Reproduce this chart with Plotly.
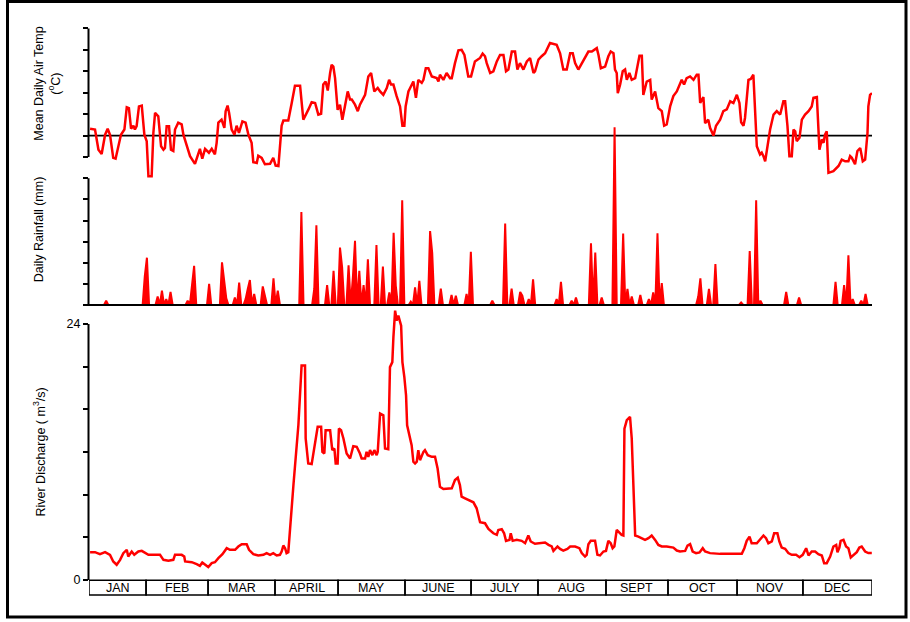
import plotly.graph_objects as go

W, H = 910, 622

# ---- data -------------------------------------------------------------
# Mean daily air temperature (deg C) against day of year
temp_day = [0.5, 2.8, 4.4, 5.9, 7.5, 8.7, 9.8, 11.3, 12.4, 13.7, 14.9, 16.5, 17.6, 18.6, 19.6, 20.7,
            21.4, 22.2, 23.3, 24.6, 25.8, 26.9, 27.7, 29.2, 30.0, 30.8, 32.3, 33.6, 34.7, 35.4, 36.2,
            37.3, 38.2, 39.3, 40.1, 41.6, 43.2, 44.0, 45.5, 47.1, 49.4, 51.0, 51.7, 52.8, 54.1, 55.9,
            57.2, 58.7, 59.5, 60.3, 61.8, 63.1, 63.7, 64.6, 65.3, 66.5, 67.8, 68.8, 69.9, 71.5, 73.0,
            74.3, 75.8, 76.6, 78.2, 78.9, 80.5, 82.0, 84.4, 85.9, 87.0, 88.3, 89.8, 90.6, 92.9, 94.5,
            96.0, 98.4, 99.9, 102.3, 103.8, 105.4, 106.9, 108.2, 109.2, 110.3, 111.3, 112.4, 113.1,
            113.9, 114.7, 115.9, 117.0, 118.1, 119.3, 120.6, 121.7, 122.5, 124.0, 125.3, 126.3, 128.7,
            130.2, 131.5, 133.0, 134.6, 135.7, 137.2, 138.8, 139.9, 140.8, 141.9, 143.4, 145.0, 146.1,
            147.0, 147.6, 148.9, 149.7, 151.2, 152.4, 153.5, 155.1, 155.9, 157.0, 158.2, 159.8, 162.1,
            162.9, 163.6, 165.2, 166.7, 168.3, 169.1, 170.6, 172.2, 173.7, 175.0, 176.8, 178.1, 179.9,
            182.3, 183.5, 184.6, 185.4, 187.0, 188.5, 190.1, 191.6, 193.2, 194.4, 195.5, 197.1, 198.6,
            199.7, 200.9, 202.5, 204.1, 205.6, 207.2, 207.9, 209.5, 211.0, 212.6, 214.9, 218.0, 219.6,
            221.1, 222.7, 224.3, 225.5, 226.6, 228.1, 229.7, 231.2, 232.8, 234.4, 235.9, 236.7, 237.5,
            238.6, 240.6, 242.1, 243.2, 244.5, 245.2, 246.0, 246.5, 247.6, 248.8, 249.9, 250.7, 251.9,
            253.0, 254.6, 256.6, 257.7, 258.4, 260.0, 261.6, 262.3, 263.9, 264.7, 265.4, 267.0, 268.1,
            269.3, 270.9, 272.4, 274.0, 276.3, 277.4, 278.6, 280.2, 281.8, 283.3, 284.1, 284.9, 286.4,
            287.2, 288.7, 289.5, 291.1, 292.3, 294.2, 295.7, 297.3, 298.9, 300.4, 302.0, 303.2, 304.0,
            305.1, 305.8, 307.4, 308.5, 309.7, 310.5, 311.3, 312.8, 313.6, 314.4, 315.2, 317.5, 319.1,
            320.6, 322.2, 323.7, 324.5, 325.6, 326.5, 327.6, 328.4, 329.2, 329.9, 331.2, 332.3, 333.8,
            335.4, 336.9, 337.7, 339.3, 340.0, 340.5, 341.6, 342.4, 343.1, 343.9, 344.7, 347.0, 349.4,
            350.9, 352.5, 354.0, 354.8, 355.6, 357.1, 358.2, 359.5, 360.7, 361.8, 362.9, 363.3, 364.1,
            365.0]
temp_c = [1.6, 1.4, -3.3, -4.3, 0.2, 1.6, 0.2, -5.2, -5.4, -2.5, 0.2, 1.4, 6.6, 6.4, 1.6, 2.3,
          1.4, 2.2, 6.8, 7.0, 0.2, -1.3, -9.5, -9.5, 0.6, 5.3, 4.5, -2.5, -3.3, -2.9, 2.2,
          2.2, -3.3, -3.6, 1.4, 3.0, 2.6, 0.2, -2.5, -4.8, -6.6, -4.4, -3.1, -5.4, -3.1, -4.0,
          -3.1, -4.4, -1.7, 3.0, 3.7, 1.8, 5.7, 7.0, 5.3, 1.4, 0.2, 2.3, 0.6, 3.3, 3.0,
          0.2, -1.7, -6.2, -6.4, -4.7, -5.2, -6.7, -6.6, -5.2, -7.0, -7.1, 2.3, 3.5, 3.5, 7.6,
          11.6, 11.6, 3.7, 6.1, 7.8, 7.6, 4.9, 5.1, 11.9, 12.6, 10.5, 14.6, 16.5,
          16.1, 13.4, 6.0, 7.2, 3.7, 6.8, 10.3, 8.4, 8.4, 7.2, 5.7, 7.2, 9.5,
          13.8, 14.6, 10.3, 11.1, 10.3, 9.5, 11.1, 13.0, 11.9, 11.9, 9.2, 6.8, 2.3,
          2.3, 6.8, 10.3, 11.1, 12.6, 8.8, 13.0, 12.3, 13.0, 15.7, 15.7, 13.8, 13.4,
          12.6, 14.2, 13.0, 14.6, 13.4, 13.4, 16.9, 19.9, 20.0, 18.8, 13.8, 13.8, 17.3,
          18.1, 19.1, 18.5, 16.9, 14.6, 15.0, 17.3, 18.8, 18.8, 15.0, 15.4, 19.6, 19.6,
          15.4, 16.9, 15.4, 17.3, 18.1, 14.6, 15.0, 17.7, 18.5, 19.2, 21.6, 21.2, 19.2,
          15.4, 15.4, 19.2, 19.2, 16.9, 15.4, 16.9, 18.1, 19.6, 19.6, 20.0, 20.4, 18.8,
          15.7, 16.1, 18.5, 19.6, 19.2, 15.4, 14.6, 9.9, 11.9, 15.0, 15.4, 13.0, 14.6,
          13.0, 13.4, 18.6, 18.6, 9.5, 12.6, 13.0, 8.4, 10.3, 8.4, 6.4, 5.7, 2.3,
          2.6, 6.8, 9.2, 10.3, 13.0, 11.9, 13.4, 13.8, 13.0, 14.2, 14.2, 7.6, 9.0,
          2.9, 3.7, 1.8, 0.0, 2.3, 3.7, 5.7, 6.1, 8.0, 7.6, 9.5, 7.6, 3.1,
          2.3, 4.1, 13.0, 13.2, 14.2, 6.1, -2.5, -4.4, -4.0, -4.8, -6.0, 1.4, 4.9,
          5.7, 4.9, 8.0, 8.0, 2.2, -4.8, -4.8, 1.4, 1.0, -1.3, -0.5, 3.7, 4.9,
          5.7, 6.8, 8.8, 9.0, 0.6, -3.3, -0.9, -1.7, 0.2, 1.0, -8.7, -8.3, -7.1,
          -5.6, -6.0, -6.0, -4.8, -5.2, -6.7, -3.6, -2.9, -6.0, -5.6, 0.6, 6.8, 9.5,
          9.9]

# Daily rainfall (mm): days with rain; every other day is dry
rain_wet_day = [8, 26, 27, 32, 34, 36, 38, 46, 48, 49, 56, 62, 63, 64, 68, 70, 73, 74, 75, 77,
                81, 82, 86, 88, 99, 105, 106, 111, 114, 117, 118, 121, 123, 124, 126, 128, 130,
                134, 137, 140, 142, 143, 146, 150, 152, 154, 159, 160, 164, 169, 171, 176, 178,
                188, 194, 197, 201, 202, 205, 207, 218, 220, 225, 227, 234, 236, 239, 245, 249,
                251, 253, 257, 261, 263, 265, 267, 284, 285, 289, 292, 304, 308, 311, 313, 325,
                331, 348, 352, 354, 356, 360, 362]
rain_wet_mm = [1.0, 6.8, 11.2, 2.0, 3.4, 1.4, 3.1, 1.0, 4.6, 9.3, 5.0, 10.1, 6.1, 1.6, 1.8, 5.3,
               1.4, 3.8, 5.9, 2.6, 4.4, 2.2, 6.3, 3.4, 22.0, 3.8, 18.9, 4.7, 8.1, 13.6, 8.9, 9.4,
               6.5, 15.2, 8.1, 4.7, 10.8, 14.2, 9.1, 3.0, 17.1, 4.6, 24.8, 0.8, 4.2, 5.7, 17.5,
               12.3, 3.9, 2.4, 2.2, 2.6, 12.6, 1.0, 19.3, 3.9, 3.1, 2.2, 1.4, 6.1, 1.4, 5.5, 1.0,
               1.8, 14.6, 12.4, 1.8, 42.1, 16.9, 3.8, 2.0, 2.4, 1.4, 3.0, 17.0, 5.2, 2.0, 6.3,
               3.8, 9.7, 0.6, 12.8, 24.8, 1.0, 3.1, 1.8, 5.5, 4.7, 11.8, 1.4, 1.0, 2.6]

# River discharge (m3/s) against day of year
q_day = [0.5, 2.8, 5.1, 7.5, 9.8, 11.3, 12.9, 14.5, 16.0, 17.6, 18.3, 19.9, 21.1, 23.0, 24.6, 26.1,
         27.7, 30.0, 33.1, 34.7, 37.0, 39.3, 40.1, 43.2, 44.4, 44.8, 47.9, 50.2, 51.7, 52.8, 54.1,
         55.6, 57.2, 58.7, 60.3, 62.2, 64.2, 65.7, 68.1, 69.6, 71.2, 73.5, 74.6, 76.6, 78.9, 81.3,
         82.8, 84.4, 85.9, 87.5, 89.0, 89.8, 90.6, 91.4, 92.1, 92.9, 95.3, 97.6, 99.1, 100.7,
         101.0, 102.2, 103.8, 105.4, 106.6, 108.2, 108.8, 109.7, 110.3, 112.4, 113.4, 114.4,
         115.0, 115.9, 116.5, 117.5, 118.6, 120.1, 121.7, 123.2, 124.8, 126.3, 127.1, 128.7,
         129.4, 130.2, 131.0, 132.1, 133.0, 134.1, 134.6, 135.7, 137.2, 138.0, 139.5, 140.3,
         141.4, 141.9, 142.7, 143.4, 144.2, 145.5, 146.1, 147.0, 147.8, 148.3, 148.9, 150.4,
         151.2, 152.0, 152.8, 153.5, 154.3, 155.1, 155.9, 156.6, 157.9, 159.8, 161.3, 162.5,
         163.6, 165.2, 167.5, 169.1, 170.6, 171.9, 172.9, 173.7, 175.3, 176.8, 179.2, 180.7,
         182.3, 184.6, 186.2, 188.5, 190.1, 190.8, 192.4, 193.5, 194.4, 196.0, 196.6, 197.5,
         199.4, 201.7, 203.3, 204.8, 205.9, 207.9, 210.3, 212.6, 214.2, 215.7, 216.5, 218.4,
         219.6, 221.1, 223.0, 224.3, 226.6, 228.6, 229.7, 231.2, 232.0, 232.8, 233.9, 235.9,
         237.0, 238.2, 239.8, 241.0, 242.1, 243.2, 244.1, 244.9, 246.0, 247.3, 248.3, 249.1,
         249.6, 250.7, 252.2, 253.0, 254.1, 254.6, 256.1, 257.7, 259.2, 260.8, 262.3, 263.9,
         265.4, 267.0, 269.3, 272.4, 274.0, 275.5, 277.9, 279.0, 280.2, 281.4, 283.0, 284.6,
         286.1, 287.2, 289.5, 294.2, 300.4, 304.3, 305.5, 306.6, 307.9, 308.9, 311.3, 312.8,
         314.4, 315.6, 316.7, 318.3, 319.4, 320.9, 321.8, 322.9, 324.5, 326.0, 327.6, 329.6,
         331.2, 332.7, 334.3, 335.4, 336.9, 338.5, 340.0, 341.6, 342.7, 343.9, 345.5, 347.0,
         348.3, 348.9, 349.8, 350.4, 351.7, 352.9, 354.0, 355.1, 356.3, 357.9, 359.1, 360.2,
         361.8, 363.3, 364.9]
q_m3s = [2.62, 2.62, 2.43, 2.62, 2.37, 1.75, 1.44, 1.90, 2.53, 2.84, 2.21, 2.68, 2.37, 2.68, 2.74, 2.53,
         2.37, 2.37, 2.37, 1.90, 1.81, 1.90, 2.37, 2.37, 2.21, 1.75, 1.68, 1.50, 1.34, 1.65, 1.44,
         1.22, 1.59, 1.68, 2.06, 2.43, 2.99, 2.84, 2.84, 3.15, 3.37, 3.37, 2.84, 2.43, 2.31, 2.37,
         2.53, 2.37, 2.53, 2.31, 2.37, 2.68, 3.24, 2.99, 2.53, 2.62, 8.91, 14.51, 20.11, 20.11,
         13.27, 10.93, 10.87, 12.64, 14.36, 14.36, 12.02, 11.86, 14.04, 14.04, 12.18, 12.33,
         10.93, 10.93, 14.20, 14.04, 13.27, 11.86, 11.40, 12.55, 12.49, 11.86, 11.40, 11.40,
         12.02, 11.55, 12.18, 11.71, 12.18, 11.71, 12.02, 15.60, 15.44, 12.33, 12.27, 19.96,
         20.43, 22.76, 25.25, 24.32, 24.78, 23.85, 20.43, 19.02, 17.31, 14.51, 13.89, 12.64,
         11.09, 10.93, 11.09, 12.18, 11.24, 11.71, 12.02, 12.18, 11.71, 11.55, 11.55, 10.46,
         8.75, 8.53, 8.53, 8.60, 9.37, 9.59, 8.91, 7.82, 7.66, 7.51, 7.29, 6.73,
         5.42, 5.33, 4.80, 4.39, 4.24, 4.70, 4.77, 4.39, 3.68, 3.77, 4.39, 3.68,
         3.77, 3.68, 3.46, 4.18, 3.62, 3.40, 3.46, 3.52, 3.30, 3.15, 2.74, 3.15,
         2.93, 2.77, 2.93, 3.15, 3.15, 2.99, 2.53, 2.21, 2.37, 3.37, 3.68, 3.68,
         2.37, 2.31, 2.68, 2.74, 3.68, 3.46, 2.99, 3.15, 4.70, 4.39, 4.24, 4.18,
         14.20, 14.98, 15.29, 13.27, 7.66, 4.18, 4.08, 3.93, 3.77, 3.93, 4.18, 3.77,
         3.30, 3.15, 3.15, 3.05, 2.77, 2.68, 2.74, 3.24, 3.37, 2.68, 2.53, 2.59,
         2.99, 2.68, 2.53, 2.46, 2.46, 2.46, 2.99, 3.68, 4.08, 3.46, 3.46, 3.77,
         4.18, 3.93, 3.46, 3.62, 4.39, 4.39, 3.62, 3.05, 2.93, 2.53, 2.37, 2.37,
         2.15, 2.37, 2.99, 2.31, 2.68, 2.68, 2.43, 2.31, 1.59, 1.59, 2.21, 3.15,
         3.30, 2.62, 3.05, 3.68, 3.77, 3.15, 2.99, 2.12, 2.31, 2.62, 3.05, 3.15,
         2.68, 2.53, 2.53]

# Month strip along the bottom (edges in day units)
month_names = ["JAN", "FEB", "MAR", "APRIL", "MAY", "JUNE", "JULY", "AUG", "SEPT", "OCT", "NOV", "DEC"]
month_edges = [0, 26.6, 55.5, 86.7, 116.1, 147.3, 178.1, 209.3, 241.0, 269.9, 302.1, 332.8, 365]

temp_ticks = [-5, 0, 5, 10, 15, 20, 25]
rain_ticks = [0, 5, 10, 15, 20, 25, 30]
q_labelled = [0, 24]       # labelled discharge ticks
q_tick_step = 4            # unlabelled ticks in between

# Full daily rainfall series, zero on dry days
rain_day = list(range(0, 366))
rain_mm = [0.0] * 366
for d, v in zip(rain_wet_day, rain_wet_mm):
    rain_mm[d] = v

# ---- layout helpers (pixel -> paper) -----------------------------------
def px(x):
    return x / W


def py(y):
    return 1 - y / H


FONT = "Arial, 'Liberation Sans', Helvetica, sans-serif"
RED = "#ff0000"
X_DOMAIN = [px(89), px(872)]

fig = go.Figure()

fig.add_trace(go.Scatter(x=temp_day, y=temp_c, mode="lines", xaxis="x", yaxis="y",
                         line=dict(color=RED, width=2.5), hoverinfo="skip"))
fig.add_trace(go.Scatter(x=rain_day, y=rain_mm, mode="lines", xaxis="x2", yaxis="y2",
                         line=dict(color=RED, width=2), fill="tozeroy", fillcolor=RED,
                         hoverinfo="skip"))
fig.add_trace(go.Scatter(x=q_day, y=q_m3s, mode="lines", xaxis="x3", yaxis="y3",
                         line=dict(color=RED, width=2.5), hoverinfo="skip"))

xcommon = dict(domain=X_DOMAIN, range=[0, 365], visible=False, fixedrange=True)
ycommon = dict(ticks="outside", ticklen=5, tickwidth=2, tickcolor="black",
               showgrid=False, zeroline=False, showline=False, fixedrange=True)

shapes = []
# y-axis spines, drawn only over the ticked span
for yref, lo, hi in (("y", -5, 25), ("y2", 0, 30), ("y3", 0, 24)):
    shapes.append(dict(type="line", xref="paper", yref=yref, x0=px(88.5), x1=px(88.5),
                       y0=lo, y1=hi, line=dict(color="black", width=2)))
# zero reference lines
shapes.append(dict(type="line", xref="paper", yref="y", x0=px(88), x1=px(872), y0=0, y1=0,
                   line=dict(color="black", width=1.8), layer="below"))
shapes.append(dict(type="line", xref="paper", yref="y2", x0=px(88), x1=px(872), y0=0, y1=0,
                   line=dict(color="black", width=2), layer="above"))

annotations = []
# month boxes
for name, a, b in zip(month_names, month_edges[:-1], month_edges[1:]):
    shapes.append(dict(type="rect", xref="x3", yref="paper", x0=a, x1=b,
                       y0=py(597), y1=py(582), line=dict(color="black", width=1.5)))
    annotations.append(dict(x=(a + b) / 2, y=py(589.5), xref="x3", yref="paper",
                            text=name, showarrow=False, xanchor="center", yanchor="middle",
                            font=dict(family=FONT, size=12.5, color="black")))
# outer frame
shapes.append(dict(type="rect", xref="paper", yref="paper", x0=px(7.5), x1=px(906),
                   y0=py(619), y1=py(1.5), line=dict(color="black", width=3)))

# rotated axis titles
def vtitle(text, xc, yc):
    annotations.append(dict(x=px(xc), y=py(yc), xref="paper", yref="paper", text=text,
                            textangle=-90, showarrow=False, xanchor="center", yanchor="middle",
                            font=dict(family=FONT, size=12.5, color="black")))


vtitle("Mean Daily Air Temp", 39, 84)
vtitle("(<sup>o</sup>C)", 54, 84)
vtitle("Daily Rainfall (mm)", 39, 230)
vtitle("River Discharge ( m<sup>3</sup>/s)", 39, 454)

fig.update_layout(
    width=W, height=H,
    margin=dict(l=0, r=0, t=0, b=0),
    paper_bgcolor="white", plot_bgcolor="rgba(0,0,0,0)",
    showlegend=False,
    font=dict(family=FONT, color="black"),
    xaxis=dict(anchor="y", **xcommon),
    xaxis2=dict(anchor="y2", **xcommon),
    xaxis3=dict(anchor="y3", **xcommon),
    yaxis=dict(anchor="x", domain=[py(179), py(19.9)], range=[-10, 27],
               tickvals=temp_ticks, showticklabels=False, **ycommon),
    yaxis2=dict(anchor="x2", domain=[py(310.24), py(115.33)], range=[-1, 45],
                tickvals=rain_ticks, showticklabels=False, **ycommon),
    yaxis3=dict(anchor="x3", domain=[py(587.35), py(303.6)], range=[-0.5, 26],
                tickvals=q_labelled, ticktext=[str(v) for v in q_labelled], showticklabels=True,
                tickfont=dict(family=FONT, size=12.5, color="black"),
                minor=dict(tick0=0, dtick=q_tick_step, ticks="outside", ticklen=5,
                           tickwidth=2, tickcolor="black", showgrid=False),
                **ycommon),
    shapes=shapes,
    annotations=annotations,
)

fig.write_html("out.html", config={"displayModeBar": False})
